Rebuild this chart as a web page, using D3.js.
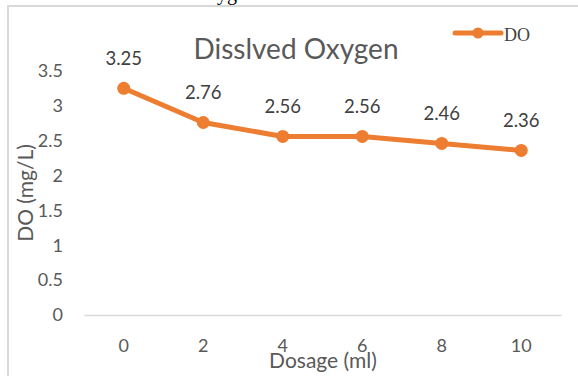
<!DOCTYPE html>
<html>
<head>
<meta charset="utf-8">
<script src="https://cdn.jsdelivr.net/npm/d3@7/dist/d3.min.js"></script>
<style>
  html, body { margin: 0; padding: 0; background: #fff; }
  svg { display: block; }
</style>
</head>
<body>
<svg id="chart" width="578" height="376"></svg>
<script>
// Dosage levels (ml) and measured dissolved oxygen (mg/L)
const dosage = ["0", "2", "4", "6", "8", "10"];
const doValues = [3.25, 2.76, 2.56, 2.56, 2.46, 2.36];
const yTicks = [0, 0.5, 1, 1.5, 2, 2.5, 3, 3.5];
const seriesName = "DO";
const chartTitle = "Disslved Oxygen";
const xTitle = "Dosage (ml)";
const yTitle = "DO (mg/L)";
const captionText = "Dissolved Oxygen";

const svg = d3.select("#chart");
const font = "Lato, 'Open Sans', sans-serif";
const grey = "#595959";
const orange = "#ED7D31";

const plot = { left: 84, right: 561, top: 36, bottom: 315 };

const x = d3.scaleBand().domain(dosage).range([plot.left, plot.right]).padding(0);
const y = d3.scaleLinear().domain([0, 4]).range([plot.bottom, plot.top]);

// caption line sitting just above the chart frame
svg.append("text")
  .attr("x", 256).attr("y", 0)
  .attr("text-anchor", "end")
  .attr("font-family", "'Liberation Serif', serif")
  .attr("font-size", 20)
  .attr("fill", "#000")
  .text(captionText);

// chart frame
svg.append("rect")
  .attr("x", 8).attr("y", 6)
  .attr("width", 600).attr("height", 400)
  .attr("fill", "#fff")
  .attr("stroke", "#d9d9d9")
  .attr("stroke-width", 2);

// y axis (labels only)
const yAxis = svg.append("g")
  .attr("transform", "translate(63,0)")
  .call(d3.axisLeft(y).tickValues(yTicks).tickSize(0).tickPadding(0).tickFormat(d3.format("~g")));
yAxis.select(".domain").remove();
yAxis.selectAll("text")
  .attr("font-family", font).attr("font-size", 18).attr("fill", grey);

// x axis
const xAxis = svg.append("g")
  .attr("transform", `translate(0,${plot.bottom})`)
  .call(d3.axisBottom(x).tickSize(0).tickPadding(24));
xAxis.select(".domain").attr("stroke", "#d9d9d9").attr("stroke-width", 1.5);
xAxis.selectAll("text")
  .attr("font-family", font).attr("font-size", 18).attr("fill", grey);

// titles
svg.append("text")
  .attr("x", 296).attr("y", 59)
  .attr("text-anchor", "middle")
  .attr("font-family", font).attr("font-size", 28).attr("fill", grey)
  .text(chartTitle);

svg.append("text")
  .attr("x", 323).attr("y", 368)
  .attr("text-anchor", "middle")
  .attr("font-family", font).attr("font-size", 21).attr("fill", grey)
  .text(xTitle);

svg.append("text")
  .attr("transform", "translate(33,193) rotate(-90)")
  .attr("text-anchor", "middle")
  .attr("font-family", font).attr("font-size", 21).attr("fill", grey)
  .text(yTitle);

// series
const pts = dosage.map((d, i) => ({ k: d, v: doValues[i] }));
const cx = d => x(d.k) + x.bandwidth() / 2;

svg.append("path")
  .datum(pts)
  .attr("fill", "none")
  .attr("stroke", orange)
  .attr("stroke-width", 5)
  .attr("stroke-linejoin", "round")
  .attr("d", d3.line().x(cx).y(d => y(d.v)));

svg.selectAll("circle.pt")
  .data(pts).enter().append("circle")
  .attr("class", "pt")
  .attr("cx", cx).attr("cy", d => y(d.v))
  .attr("r", 6.5).attr("fill", orange);

svg.selectAll("text.lbl")
  .data(pts).enter().append("text")
  .attr("class", "lbl")
  .attr("x", cx).attr("y", d => y(d.v) - 23)
  .attr("text-anchor", "middle")
  .attr("font-family", font).attr("font-size", 18.5).attr("fill", "#404040")
  .text(d => d.v.toFixed(2));

// legend
const lg = svg.append("g");
lg.append("line")
  .attr("x1", 455).attr("x2", 501).attr("y1", 33).attr("y2", 33)
  .attr("stroke", orange).attr("stroke-width", 5).attr("stroke-linecap", "round");
lg.append("circle").attr("cx", 478).attr("cy", 33).attr("r", 5.5).attr("fill", orange);
lg.append("text")
  .attr("x", 504).attr("y", 41)
  .attr("font-family", "'Liberation Serif', serif").attr("font-size", 18).attr("fill", "#404040")
  .text(seriesName);
</script>
</body>
</html>
